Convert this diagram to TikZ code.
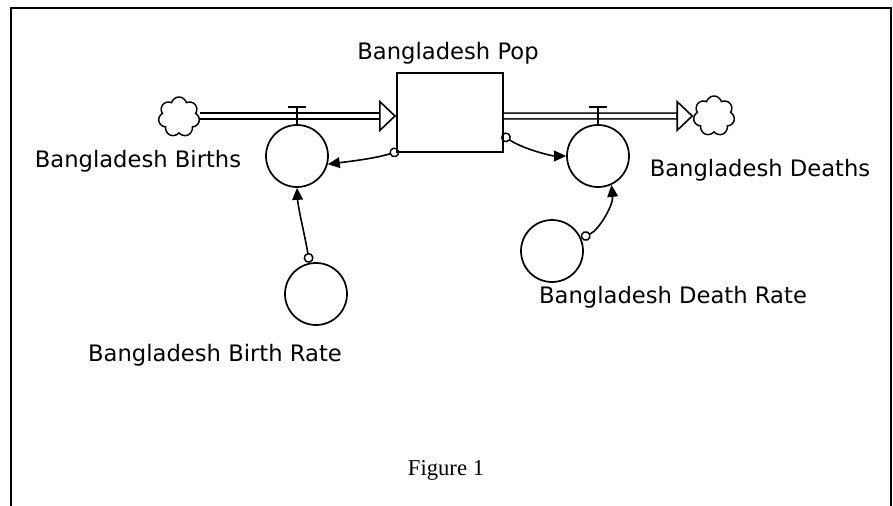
\documentclass[tikz,border=0pt]{standalone}
\usepackage{fontspec}
\setmainfont{DejaVu Sans}
\newfontfamily\figfont{Liberation Serif}
\usetikzlibrary{arrows.meta,shapes.symbols,calc}

\begin{document}
\begin{tikzpicture}[x=0.75pt,y=0.75pt,yscale=-1,line width=1.3pt,
	aux/.style={draw,circle,minimum size=46.5pt,inner sep=0pt},
	source/.style={draw,cloud,cloud puffs=7,minimum width=31pt,minimum height=30pt,inner sep=0pt,line width=1.1pt},
	pipe/.style={double,double distance=3.2pt,line width=1.2pt},
	pipetip/.style={-{Triangle[open,length=12.75pt,width=24pt,line width=1.2pt]}},
	link/.style={{Circle[open,length=7.5pt,line width=1.1pt]}-{Triangle[length=9pt,width=8pt]},line width=1.2pt},
	lbl/.style={font=\fontsize{17}{20}\selectfont,inner sep=0pt}]
			\useasboundingbox (0,0) rectangle (893,506);
			%Frame
			\draw [line width=2pt] (11,506) -- (11,8) -- (891,8) -- (891,506) ;
			
			%Stock
			\node [draw,minimum width=79.5pt,minimum height=59.25pt,inner sep=0pt] (pop) at (450,112.5) {};
			%Clouds
			\node [source] (cloudL) at (179,117) {};
			\node [source] (cloudR) at (714,116) {};
			\coordinate (inEnd) at (pop.west |- 0,116) ;
			\coordinate (outStart) at (pop.east |- cloudR) ;
			
			%Flows
			\draw [pipe,shorten >=12pt] (cloudL.east |- inEnd) -- (inEnd) ;
			\draw [pipetip] ($(inEnd)+(-17,0)$) -- (inEnd) ;
			\draw [pipe,shorten >=12pt] (outStart) -- (cloudR.west) ;
			\draw [pipetip] ($(cloudR.west)+(-17,0)$) -- (cloudR.west) ;
			
			%Converters
			\node [aux] (births) at (297,156) {};
			\node [aux] (deaths) at (598,156) {};
			\node [aux] (birthrate) at (316,294) {};
			\node [aux] (deathrate) at (552,251) {};
			
			%Valves
			\draw (births.north) -- ++(0,-17) ++(-9,0) -- ++(18,0) ;
			\draw (deaths.north) -- ++(0,-17) ++(-9,0) -- ++(18,0) ;
			
			%Connectors
			\draw [link] ($(pop.south west)+(3,-2)$) .. controls +(-25,8) and +(15,-2) .. (births.-15) ;
			\draw [link] ($(pop.east)+(-2,22)$) .. controls +(20,14) and +(-15,0) .. (deaths.west) ;
			\draw [link] (birthrate.102) .. controls +(-4,-25) and +(1,20) .. (births.-90) ;
			\draw [link] (deathrate.24) .. controls +(18,-8) and +(2,20) .. (deaths.-65) ;
			
			% Text Node
			\node [lbl] (popLbl) at (448,53) {Bangladesh Pop};
			\node [lbl] (birthsLbl) at (138,161) {Bangladesh Births};
			\node [lbl] (deathsLbl) at (760,170) {Bangladesh Deaths};
			\node [lbl] (birthrateLbl) at (215,355) {Bangladesh Birth Rate};
			\node [lbl] (deathrateLbl) at (673,297) {Bangladesh Death Rate};
			\node [font=\figfont\fontsize{17}{20}\selectfont] (figLbl) at (446,470) {Figure 1};
		\end{tikzpicture}
\end{document}
